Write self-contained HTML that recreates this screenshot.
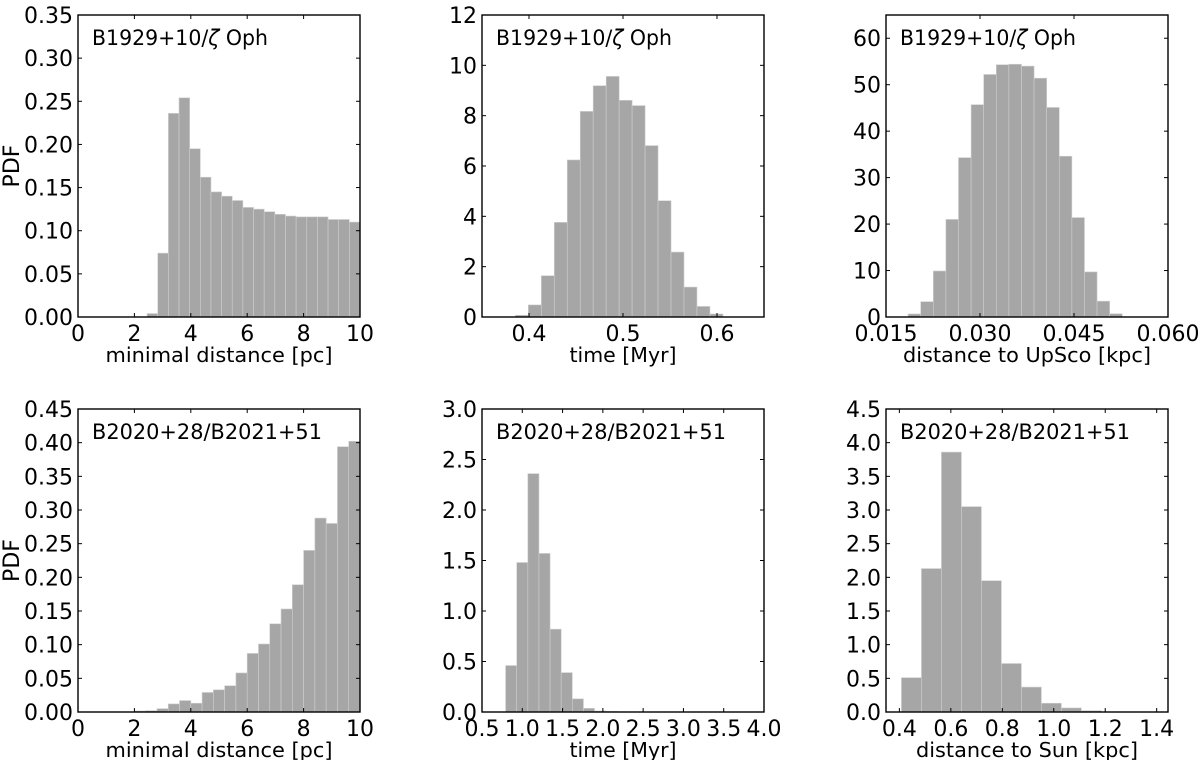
<!DOCTYPE html>
<html><head><meta charset="utf-8"><style>
html,body{margin:0;padding:0;background:#fff;}
svg{display:block;font-family:"DejaVu Sans","Liberation Sans",sans-serif;}
</style></head><body>
<svg id="fig" width="1200" height="760" xmlns="http://www.w3.org/2000/svg"></svg>
<script>
// Panel data: bin start, bin width, values
const p1Start = 2.45, p1Width = 0.3775;
const p1Values = [0.004,0.074,0.236,0.254,0.195,0.162,0.145,0.140,0.135,0.127,0.125,0.122,0.119,0.117,0.116,0.116,0.116,0.113,0.113,0.110];
const p1XTicks = ["0","2","4","6","8","10"];
const p1YTicks = ["0.00","0.05","0.10","0.15","0.20","0.25","0.30","0.35"];

const p2Start = 0.3855, p2Width = 0.0138;
const p2Values = [0.07,0.48,1.64,3.76,6.24,8.17,9.19,9.56,8.61,8.40,6.81,4.62,2.58,1.19,0.42,0.12];
const p2XTicks = ["0.4","0.5","0.6"];
const p2YTicks = ["0","2","4","6","8","10","12"];

const p3Start = 0.01853, p3Width = 0.00201;
const p3Values = [0.65,3.3,9.9,21.0,34.3,45.7,52.2,54.3,54.4,54.0,51.4,45.1,34.6,21.4,9.7,3.4,0.7];
const p3XTicks = ["0.015","0.030","0.045","0.060"];
const p3YTicks = ["0","10","20","30","40","50","60"];

const p4Start = 0, p4Width = 0.4;
const p4Values = [0,0,0,0,0,0.0015,0.002,0.005,0.012,0.017,0.013,0.029,0.033,0.039,0.058,0.087,0.101,0.131,0.153,0.189,0.240,0.288,0.280,0.394,0.402];
const p4XTicks = ["0","2","4","6","8","10"];
const p4YTicks = ["0.00","0.05","0.10","0.15","0.20","0.25","0.30","0.35","0.40","0.45"];

const p5Start = 0.793, p5Width = 0.138;
const p5Values = [0.46,1.48,2.36,1.57,0.82,0.39,0.13,0.036,0.01,0.006,0.003];
const p5XTicks = ["0.5","1.0","1.5","2.0","2.5","3.0","3.5","4.0"];
const p5YTicks = ["0.0","0.5","1.0","1.5","2.0","2.5","3.0"];

const p6Start = 0.408, p6Width = 0.0777;
const p6Values = [0.51,2.13,3.86,3.05,1.95,0.72,0.37,0.13,0.06,0.02];
const p6XTicks = ["0.4","0.6","0.8","1.0","1.2","1.4"];
const p6YTicks = ["0.0","0.5","1.0","1.5","2.0","2.5","3.0","3.5","4.0","4.5"];

const NS = "http://www.w3.org/2000/svg";
const svg = document.getElementById('fig');
function mk(tag, attrs, parent){
  const e = document.createElementNS(NS, tag);
  for (const k in attrs) e.setAttribute(k, attrs[k]);
  (parent||svg).appendChild(e);
  return e;
}

function panel(o){
  const g = mk('g', {});
  
  
  const sx = v => o.x0 + (v - o.xmin) / (o.xmax - o.xmin) * (o.x1 - o.x0);
  const sy = v => o.y1 - (v - o.ymin) / (o.ymax - o.ymin) * (o.y1 - o.y0);
  o.values.forEach((v, i) => {
    if (v <= 0) return;
    const a = o.start + i * o.width, b = a + o.width;
    const r = mk('rect', {x: sx(a), y: sy(v), width: sx(b) - sx(a), height: sy(0) - sy(v),
      fill: '#a6a6a6', stroke: '#cfcfcf', 'stroke-width': 0.6}, g);
    
    
  });
  const f = mk('rect', {x: o.x0, y: o.y0, width: o.x1 - o.x0, height: o.y1 - o.y0, fill: 'none', stroke: '#000', 'stroke-width': 1.4}, g);
  
  
  o.xticks.forEach((t, i) => {
    const v = o.xt0 + i * o.xtStep;
    const x = sx(v);
    mk('line', {x1: x, x2: x, y1: o.y1, y2: o.y1 - 4, stroke: '#000', 'stroke-width': 1}, g);
    mk('line', {x1: x, x2: x, y1: o.y0, y2: o.y0 + 4, stroke: '#000', 'stroke-width': 1}, g);
    const tx = mk('text', {x: x, y: o.y1 + 24, 'text-anchor': 'middle', fill: '#000', style: 'font-size:22px'}, g);
    tx.textContent = t;
    
    
  });
  o.yticks.forEach((t, i) => {
    const v = o.ymin + i * o.ytStep;
    const y = sy(v);
    mk('line', {x1: o.x0, x2: o.x0 + 4, y1: y, y2: y, stroke: '#000', 'stroke-width': 1}, g);
    mk('line', {x1: o.x1, x2: o.x1 - 4, y1: y, y2: y, stroke: '#000', 'stroke-width': 1}, g);
    const ty = mk('text', {x: o.x0 - 5, y: y + 8, 'text-anchor': 'end', fill: '#000', style: 'font-size:22px'}, g);
    ty.textContent = t;
    
    
  });
  const xl = mk('text', {x: (o.x0 + o.x1) / 2, y: o.y1 + 45, 'text-anchor': 'middle', fill: '#000',
    style: 'font-size:20px', textLength: o.xlw, lengthAdjust: 'spacingAndGlyphs'}, g);
  xl.textContent = o.xlabel;
  
  
  const an = mk('text', {x: o.x0 + 14, y: o.y0 + 30, fill: '#000', style: 'font-size:21px',
    textLength: o.anw, lengthAdjust: 'spacingAndGlyphs'}, g);
  an.innerHTML = o.annot;
  
  
  if (o.ylabel) {
    const yl = mk('text', {x: 0, y: 0, 'text-anchor': 'middle', fill: '#000', style: 'font-size:22px',
      transform: 'translate(19,' + ((o.y0 + o.y1) / 2) + ') rotate(-90)'}, g);
    yl.textContent = o.ylabel;
    
    
  }
}

const annA = 'B1929+10/<tspan font-style="italic">ζ</tspan> Oph';
const annB = 'B2020+28/B2021+51';
const T0 = 15, T1 = 317, B0 = 409, B1 = 712;

panel({name:'panel-min-distance-top', x0:78, x1:360, y0:T0, y1:T1, xmin:0, xmax:10, ymin:0, ymax:0.35,
  start:p1Start, width:p1Width, values:p1Values, xticks:p1XTicks, xt0:0, xtStep:2, yticks:p1YTicks, ytStep:0.05,
  xlabel:'minimal distance [pc]', xlw:227, ylabel:'PDF', annot:annA, anw:176});
panel({name:'panel-time-top', x0:482, x1:764, y0:T0, y1:T1, xmin:0.35, xmax:0.65, ymin:0, ymax:12,
  start:p2Start, width:p2Width, values:p2Values, xticks:p2XTicks, xt0:0.4, xtStep:0.1, yticks:p2YTicks, ytStep:2,
  xlabel:'time [Myr]', xlw:107, annot:annA, anw:176});
panel({name:'panel-distance-upsco', x0:886, x1:1168, y0:T0, y1:T1, xmin:0.015, xmax:0.060, ymin:0, ymax:65,
  start:p3Start, width:p3Width, values:p3Values, xticks:p3XTicks, xt0:0.015, xtStep:0.015, yticks:p3YTicks, ytStep:10,
  xlabel:'distance to UpSco [kpc]', xlw:248, annot:annA, anw:176});
panel({name:'panel-min-distance-bottom', x0:78, x1:360, y0:B0, y1:B1, xmin:0, xmax:10, ymin:0, ymax:0.45,
  start:p4Start, width:p4Width, values:p4Values, xticks:p4XTicks, xt0:0, xtStep:2, yticks:p4YTicks, ytStep:0.05,
  xlabel:'minimal distance [pc]', xlw:227, ylabel:'PDF', annot:annB, anw:230});
panel({name:'panel-time-bottom', x0:482, x1:764, y0:B0, y1:B1, xmin:0.5, xmax:4.0, ymin:0, ymax:3.0,
  start:p5Start, width:p5Width, values:p5Values, xticks:p5XTicks, xt0:0.5, xtStep:0.5, yticks:p5YTicks, ytStep:0.5,
  xlabel:'time [Myr]', xlw:107, annot:annB, anw:230});
panel({name:'panel-distance-sun', x0:886, x1:1168, y0:B0, y1:B1, xmin:0.348, xmax:1.444, ymin:0, ymax:4.5,
  start:p6Start, width:p6Width, values:p6Values, xticks:p6XTicks, xt0:0.4, xtStep:0.2, yticks:p6YTicks, ytStep:0.5,
  xlabel:'distance to Sun [kpc]', xlw:222, annot:annB, anw:230});
</script>
</body></html>
